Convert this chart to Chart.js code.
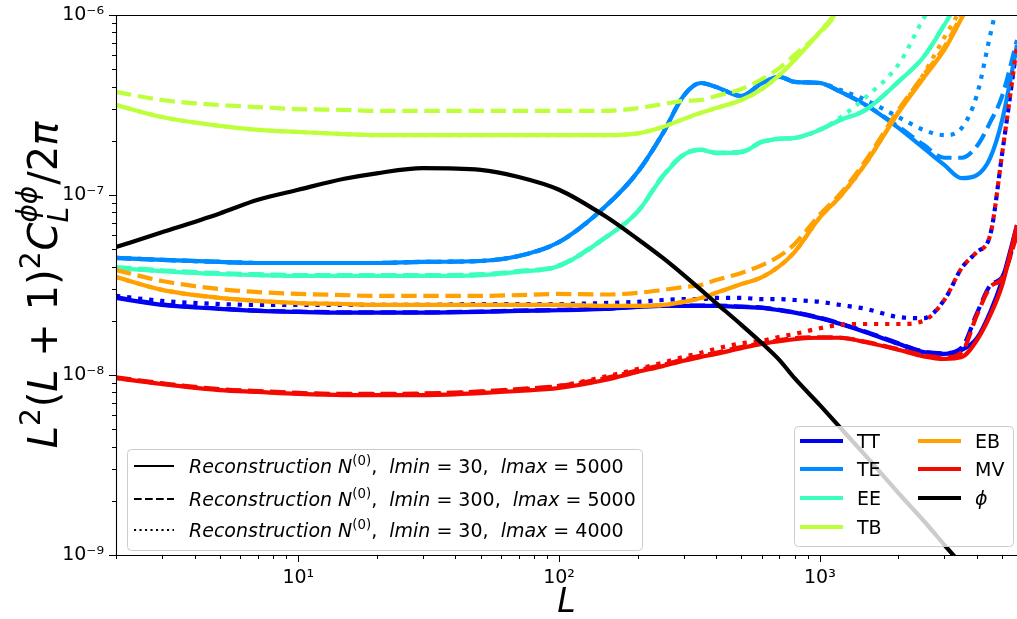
<!DOCTYPE html>
<html>
<head>
<meta charset="utf-8">
<script src="https://cdn.jsdelivr.net/npm/chart.js@4.4.0/dist/chart.umd.min.js"></script>
<style>
  html, body { margin: 0; padding: 0; background: #fff; }
  #wrap { width: 1017px; height: 619px; }
</style>
</head>
<body>
<div id="wrap"><canvas id="chart" width="1017" height="619"></canvas></div>
<script>
// ----------------------------------------
// Lensing reconstruction noise vs L
// ----------------------------------------

// multipoles shared by every curve
const ells = [2, 3, 5, 7, 10, 15, 20, 30, 50, 70, 100, 150, 200, 250, 300, 350, 400, 500,
  600, 700, 800, 1000, 1200, 1500, 2000, 2500, 3000, 3500, 4000, 4500, 5000, 5700];

// lensing potential spectrum
const phi = [5.14e-8, 6.2e-8, 7.9e-8, 9.4e-8, 1.07e-7, 1.23e-7, 1.32e-7, 1.41e-7, 1.38e-7, 1.26e-7,
  1.07e-7, 7.64e-8, 5.7e-8, 4.47e-8, 3.6e-8, 2.97e-8, 2.51e-8, 1.9e-8, 1.5e-8, 1.21e-8,
  9.6e-9, 6.8e-9, 5.08e-9, 3.55e-9, 2.21e-9, 1.55e-9, 1.14e-9, 8.8e-10, 6.8e-10, 5.5e-10, 4.5e-10, 3.5e-10];

// N0 noise, solid = lmin 30 / lmax 5000, dashed = lmin 300 / lmax 5000, dotted = lmin 30 / lmax 4000
const ttSolid = [2.68e-8, 2.45e-8, 2.33e-8, 2.27e-8, 2.24e-8, 2.22e-8, 2.22e-8, 2.22e-8, 2.24e-8, 2.27e-8,
  2.29e-8, 2.33e-8, 2.39e-8, 2.42e-8, 2.42e-8, 2.42e-8, 2.42e-8, 2.39e-8, 2.36e-8, 2.29e-8,
  2.22e-8, 2.07e-8, 1.92e-8, 1.73e-8, 1.49e-8, 1.34e-8, 1.31e-8, 1.38e-8, 1.6e-8, 2.24e-8, 3.37e-8, 6.8e-8];
const ttDashed = [2.7e-8, 2.47e-8, 2.34e-8, 2.28e-8, 2.25e-8, 2.23e-8, 2.23e-8, 2.23e-8, 2.25e-8, 2.28e-8,
  2.3e-8, 2.34e-8, 2.4e-8, 2.43e-8, 2.43e-8, 2.43e-8, 2.43e-8, 2.4e-8, 2.37e-8, 2.3e-8,
  2.23e-8, 2.08e-8, 1.93e-8, 1.74e-8, 1.5e-8, 1.35e-8, 1.32e-8, 1.42e-8, 2.2e-8, 3.15e-8, 3.5e-8, 6.1e-8];
const ttDotted = [2.75e-8, 2.58e-8, 2.48e-8, 2.45e-8, 2.45e-8, 2.45e-8, 2.45e-8, 2.45e-8, 2.48e-8, 2.48e-8,
  2.48e-8, 2.51e-8, 2.55e-8, 2.61e-8, 2.64e-8, 2.64e-8, 2.68e-8, 2.68e-8, 2.64e-8, 2.64e-8,
  2.61e-8, 2.55e-8, 2.45e-8, 2.33e-8, 2.1e-8, 2.07e-8, 2.61e-8, 3.93e-8, 4.82e-8, 6.0e-8, 1.7e-7, 6.8e-7];

const teSolid = [4.47e-8, 4.36e-8, 4.25e-8, 4.19e-8, 4.19e-8, 4.19e-8, 4.19e-8, 4.25e-8, 4.3e-8, 4.58e-8,
  5.48e-8, 8.6e-8, 1.34e-7, 2.2e-7, 3.55e-7, 4.19e-7, 3.98e-7, 3.55e-7, 4.19e-7, 4.53e-7,
  4.25e-7, 4.19e-7, 3.74e-7, 3.16e-7, 2.36e-7, 1.82e-7, 1.47e-7, 1.24e-7, 1.29e-7, 1.61e-7, 2.61e-7, 6.8e-7];
const teDashed = [4.47e-8, 4.36e-8, 4.25e-8, 4.19e-8, 4.19e-8, 4.19e-8, 4.19e-8, 4.25e-8, 4.3e-8, 4.58e-8,
  5.48e-8, 8.6e-8, 1.34e-7, 2.2e-7, 3.55e-7, 4.19e-7, 3.98e-7, 3.55e-7, 4.19e-7, 4.53e-7,
  4.25e-7, 4.19e-7, 3.74e-7, 3.16e-7, 2.4e-7, 1.9e-7, 1.61e-7, 1.61e-7, 1.87e-7, 2.54e-7, 3.55e-7, 7.26e-7];
const teDotted = [4.47e-8, 4.36e-8, 4.25e-8, 4.19e-8, 4.19e-8, 4.19e-8, 4.19e-8, 4.25e-8, 4.3e-8, 4.58e-8,
  5.48e-8, 8.6e-8, 1.34e-7, 2.2e-7, 3.55e-7, 4.19e-7, 3.98e-7, 3.55e-7, 4.19e-7, 4.53e-7,
  4.25e-7, 4.19e-7, 3.83e-7, 3.37e-7, 2.71e-7, 2.3e-7, 2.15e-7, 2.36e-7, 3.59e-7, 7.74e-7, 1.5e-6, 3e-6];

const eeSolid = [3.93e-8, 3.78e-8, 3.64e-8, 3.59e-8, 3.55e-8, 3.55e-8, 3.55e-8, 3.55e-8, 3.59e-8, 3.74e-8,
  4.03e-8, 5.77e-8, 8.05e-8, 1.27e-7, 1.67e-7, 1.78e-7, 1.71e-7, 1.73e-7, 1.97e-7, 2.05e-7,
  2.07e-7, 2.3e-7, 2.61e-7, 2.97e-7, 4.25e-7, 5.84e-7, 8.8e-7, 1.29e-6, 1.8e-6, 2.5e-6, 3e-6, 4e-6];
const eeDashed = [3.97e-8, 3.82e-8, 3.68e-8, 3.63e-8, 3.59e-8, 3.59e-8, 3.59e-8, 3.59e-8, 3.63e-8, 3.78e-8,
  4.07e-8, 5.8e-8, 8.1e-8, 1.28e-7, 1.68e-7, 1.79e-7, 1.72e-7, 1.74e-7, 1.98e-7, 2.06e-7,
  2.08e-7, 2.31e-7, 2.62e-7, 2.98e-7, 4.27e-7, 5.87e-7, 8.85e-7, 1.3e-6, 1.8e-6, 2.5e-6, 3e-6, 4e-6];
const eeDotted = [3.93e-8, 3.78e-8, 3.64e-8, 3.59e-8, 3.55e-8, 3.55e-8, 3.55e-8, 3.55e-8, 3.59e-8, 3.74e-8,
  4.03e-8, 5.77e-8, 8.05e-8, 1.27e-7, 1.67e-7, 1.78e-7, 1.71e-7, 1.73e-7, 1.97e-7, 2.05e-7,
  2.07e-7, 2.3e-7, 2.7e-7, 3.5e-7, 5.3e-7, 9.6e-7, 1.5e-6, 2.2e-6, 3e-6, 4e-6, 5e-6, 6e-6];

const tbSolid = [3.16e-7, 2.71e-7, 2.42e-7, 2.3e-7, 2.24e-7, 2.18e-7, 2.15e-7, 2.15e-7, 2.15e-7, 2.15e-7,
  2.15e-7, 2.15e-7, 2.2e-7, 2.39e-7, 2.64e-7, 2.86e-7, 3.04e-7, 3.37e-7, 3.88e-7, 4.64e-7,
  5.62e-7, 8.05e-7, 1.09e-6, 1.5e-6, 2e-6, 2.5e-6, 3e-6, 3.5e-6, 4e-6, 4.5e-6, 5e-6, 5.5e-6];
const tbDashed = [3.74e-7, 3.37e-7, 3.16e-7, 3.08e-7, 3.0e-7, 2.97e-7, 2.93e-7, 2.93e-7, 2.93e-7, 2.93e-7,
  2.93e-7, 2.93e-7, 3.04e-7, 3.2e-7, 3.33e-7, 3.37e-7, 3.55e-7, 3.88e-7, 4.41e-7, 5.08e-7,
  6.0e-7, 7.94e-7, 1.07e-6, 1.5e-6, 2e-6, 2.5e-6, 3e-6, 3.5e-6, 4e-6, 4.5e-6, 5e-6, 5.5e-6];
const tbDotted = [3.16e-7, 2.71e-7, 2.42e-7, 2.3e-7, 2.24e-7, 2.18e-7, 2.15e-7, 2.15e-7, 2.15e-7, 2.15e-7,
  2.15e-7, 2.15e-7, 2.2e-7, 2.39e-7, 2.64e-7, 2.86e-7, 3.04e-7, 3.37e-7, 3.88e-7, 4.64e-7,
  5.62e-7, 8.05e-7, 1.09e-6, 1.5e-6, 2e-6, 2.5e-6, 3e-6, 3.5e-6, 4e-6, 4.5e-6, 5e-6, 5.5e-6];

const ebSolid = [3.5e-8, 2.97e-8, 2.68e-8, 2.58e-8, 2.51e-8, 2.48e-8, 2.45e-8, 2.45e-8, 2.45e-8, 2.45e-8,
  2.45e-8, 2.42e-8, 2.42e-8, 2.45e-8, 2.55e-8, 2.68e-8, 2.86e-8, 3.2e-8, 3.5e-8, 4.03e-8,
  4.82e-8, 7.5e-8, 9.87e-8, 1.5e-7, 2.86e-7, 4.47e-7, 6.4e-7, 9.62e-7, 1.38e-6, 2e-6, 2.5e-6, 3e-6];
const ebDashed = [3.83e-8, 3.33e-8, 3.0e-8, 2.89e-8, 2.82e-8, 2.78e-8, 2.75e-8, 2.75e-8, 2.75e-8, 2.78e-8,
  2.82e-8, 2.8e-8, 2.86e-8, 2.97e-8, 3.08e-8, 3.16e-8, 3.37e-8, 3.69e-8, 4.08e-8, 4.58e-8,
  5.34e-8, 7.8e-8, 1.02e-7, 1.56e-7, 2.97e-7, 4.64e-7, 6.64e-7, 1.0e-6, 1.4e-6, 2e-6, 2.5e-6, 3e-6];
const ebDotted = [3.5e-8, 2.97e-8, 2.68e-8, 2.58e-8, 2.51e-8, 2.48e-8, 2.45e-8, 2.45e-8, 2.45e-8, 2.45e-8,
  2.45e-8, 2.42e-8, 2.42e-8, 2.45e-8, 2.55e-8, 2.68e-8, 2.86e-8, 3.2e-8, 3.5e-8, 4.03e-8,
  4.82e-8, 7.5e-8, 9.87e-8, 1.5e-7, 2.9e-7, 4.7e-7, 7.5e-7, 1.1e-6, 1.6e-6, 2.2e-6, 2.8e-6, 3.4e-6];

const mvSolid = [9.62e-9, 8.91e-9, 8.25e-9, 8.05e-9, 7.85e-9, 7.74e-9, 7.74e-9, 7.74e-9, 7.94e-9, 8.15e-9,
  8.47e-9, 9.38e-9, 1.04e-8, 1.12e-8, 1.2e-8, 1.26e-8, 1.31e-8, 1.41e-8, 1.49e-8, 1.54e-8,
  1.58e-8, 1.61e-8, 1.61e-8, 1.52e-8, 1.38e-8, 1.27e-8, 1.23e-8, 1.26e-8, 1.56e-8, 2.15e-8, 3.16e-8, 6.8e-8];
const mvDashed = [9.7e-9, 9.0e-9, 8.35e-9, 8.15e-9, 7.95e-9, 7.85e-9, 7.85e-9, 7.9e-9, 8.1e-9, 8.35e-9,
  8.7e-9, 9.6e-9, 1.06e-8, 1.14e-8, 1.22e-8, 1.28e-8, 1.33e-8, 1.43e-8, 1.5e-8, 1.56e-8,
  1.6e-8, 1.62e-8, 1.61e-8, 1.53e-8, 1.39e-8, 1.29e-8, 1.25e-8, 1.34e-8, 2.15e-8, 3.08e-8, 3.45e-8, 6.0e-8];
const mvDotted = [9.65e-9, 8.95e-9, 8.3e-9, 8.1e-9, 7.9e-9, 7.8e-9, 7.8e-9, 7.85e-9, 8.05e-9, 8.3e-9,
  8.7e-9, 9.8e-9, 1.08e-8, 1.17e-8, 1.26e-8, 1.33e-8, 1.4e-8, 1.5e-8, 1.55e-8, 1.63e-8,
  1.69e-8, 1.82e-8, 1.9e-8, 1.92e-8, 1.92e-8, 2.0e-8, 2.61e-8, 3.93e-8, 4.82e-8, 6.0e-8, 1.7e-7, 6.8e-7];

// estimators, colours (jet at 0.1..0.9) and their three curves
const estimators = ["TT", "TE", "EE", "TB", "EB", "MV"];
const estColors = ["#0000f3", "#008aff", "#3affbd", "#bdff3a", "#ffa100", "#f30900"];
const estCurves = [
  [ttSolid, ttDashed, ttDotted],
  [teSolid, teDashed, teDotted],
  [eeSolid, eeDashed, eeDotted],
  [tbSolid, tbDashed, tbDotted],
  [ebSolid, ebDashed, ebDotted],
  [mvSolid, mvDashed, mvDotted]
];

// configurations shown in the linestyle legend
const configStyles = ["solid", "dashed", "dotted"];
const configLmin = [30, 300, 30];
const configLmax = [5000, 5000, 4000];

// axis ticks
const xTickValues = [10, 100, 1000];
const xTickLabels = ["10\u00b9", "10\u00b2", "10\u00b3"];
const yTickValues = [1e-9, 1e-8, 1e-7, 1e-6];
const yTickLabels = ["10\u207b\u2079", "10\u207b\u2078", "10\u207b\u2077", "10\u207b\u2076"];

const FONT = '"DejaVu Sans"';
const LINE_W = 4.2;
const DASHES = { solid: [], dashed: [15.4, 6.7], dotted: [4.2, 6.9] };
const LEG_DASHES = { solid: [], dashed: [7.7, 3.3], dotted: [2.1, 3.4] };

// minor tick positions: 2..9 times each decade
function minorTicks(lo, hi) {
  const out = [];
  for (let d = Math.floor(Math.log10(lo)); d <= Math.ceil(Math.log10(hi)); d++) {
    for (let m = 1; m <= 9; m++) {
      const v = m * Math.pow(10, d);
      if (v >= lo * 0.999999 && v <= hi * 1.000001) out.push(v);
    }
  }
  return out;
}

function toPoints(values) {
  return ells.map((l, i) => ({ x: l, y: values[i] }));
}

// ---------- datasets (index 0 is drawn on top) ----------
const datasets = [{
  label: "\u03d5",
  data: toPoints(phi),
  borderColor: "#000000",
  borderWidth: LINE_W
}];
for (let e = estimators.length - 1; e >= 0; e--) {
  for (let s = configStyles.length - 1; s >= 0; s--) {
    datasets.push({
      label: estimators[e] + " " + configStyles[s],
      data: toPoints(estCurves[e][s]),
      borderColor: estColors[e],
      borderWidth: LINE_W,
      borderDash: DASHES[configStyles[s]]
    });
  }
}

// ---------- rich text helper (mathtext look) ----------
function fontOf(size, italic) {
  return (italic ? "italic " : "") + size + "px " + FONT;
}
function partWidth(ctx, p, size) {
  if (p.stack) {
    ctx.font = fontOf(size * 0.7, true);
    return Math.max(ctx.measureText(p.sup).width, ctx.measureText(p.sub).width);
  }
  ctx.font = fontOf(p.sup ? size * 0.7 : size, p.it);
  return ctx.measureText(p.t).width;
}
function richWidth(ctx, parts, size) {
  return parts.reduce((w, p) => w + partWidth(ctx, p, size) + (p.gap || 0), 0);
}
function drawRich(ctx, parts, x, y, size) {
  ctx.textBaseline = "alphabetic";
  ctx.textAlign = "left";
  for (const p of parts) {
    const w = partWidth(ctx, p, size);
    if (p.stack) {
      ctx.font = fontOf(size * 0.7, true);
      ctx.fillText(p.sup, x, y - size * 0.5);
      ctx.fillText(p.sub, x, y + size * 0.28);
    } else {
      ctx.font = fontOf(p.sup ? size * 0.7 : size, p.it);
      ctx.fillText(p.t, x, p.sup ? y - size * 0.42 : y);
    }
    x += w + (p.gap || 0);
  }
}

function legendBox(ctx, x, y, w, h) {
  ctx.save();
  ctx.beginPath();
  ctx.roundRect(x + 0.5, y + 0.5, w, h, 4);
  ctx.fillStyle = "rgba(255,255,255,0.8)";
  ctx.fill();
  ctx.strokeStyle = "#cccccc";
  ctx.lineWidth = 1;
  ctx.stroke();
  ctx.restore();
}

// ---------- plugin: frame, tick marks, axis titles, legends ----------
const decorations = {
  id: "decorations",
  afterDraw(chart) {
    const ctx = chart.ctx;
    const a = chart.chartArea;
    const xs = chart.scales.x, ys = chart.scales.y;
    ctx.save();

    // frame
    ctx.strokeStyle = "#000";
    ctx.lineWidth = 1.1;
    ctx.beginPath();
    ctx.moveTo(a.left + 0.5, a.bottom + 0.5);
    ctx.lineTo(a.left + 0.5, a.top + 0.5);
    ctx.lineTo(a.right + 0.5, a.top + 0.5);
    ctx.moveTo(a.left + 0.5, a.bottom + 0.5);
    ctx.lineTo(a.right + 0.5, a.bottom + 0.5);
    ctx.stroke();

    // tick marks (outward)
    ctx.lineWidth = 1;
    ctx.beginPath();
    xs.ticks.forEach(t => {
      const px = Math.round(xs.getPixelForValue(t.value)) + 0.5;
      const len = t.major ? 7 : 4;
      ctx.moveTo(px, a.bottom);
      ctx.lineTo(px, a.bottom + len);
    });
    ys.ticks.forEach(t => {
      const py = Math.round(ys.getPixelForValue(t.value)) + 0.5;
      const len = t.major ? 7 : 4;
      ctx.moveTo(a.left, py);
      ctx.lineTo(a.left - len, py);
    });
    ctx.stroke();

    ctx.fillStyle = "#000";

    // x title
    ctx.font = fontOf(33, true);
    ctx.textAlign = "center";
    ctx.textBaseline = "alphabetic";
    ctx.fillText("L", (a.left + a.right) / 2, 612);

    // y title, rotated
    const ySize = 40;
    const yParts = [
      { t: "L", it: true }, { t: "2", sup: true, gap: 1 }, { t: "(" }, { t: "L", it: true },
      { t: " + " }, { t: "1" }, { t: ")" }, { t: "2", sup: true, gap: 1 }, { t: "C", it: true },
      { stack: true, sup: "\u03d5\u03d5", sub: "L", gap: 1 }, { t: "/2" }, { t: "\u03c0", it: true }
    ];
    const yw = richWidth(ctx, yParts, ySize);
    ctx.save();
    ctx.translate(57, (a.top + a.bottom) / 2);
    ctx.rotate(-Math.PI / 2);
    drawRich(ctx, yParts, -yw / 2, 0, ySize);
    ctx.restore();

    // linestyle legend
    const lSize = 19;
    legendBox(ctx, 127, 449, 515, 101);
    const rows1 = [466, 499, 530];
    configStyles.forEach((st, i) => {
      ctx.save();
      ctx.strokeStyle = "#000";
      ctx.lineWidth = 2.1;
      ctx.setLineDash(LEG_DASHES[st]);
      ctx.beginPath();
      ctx.moveTo(134, rows1[i]);
      ctx.lineTo(174, rows1[i]);
      ctx.stroke();
      ctx.restore();
      const parts = [
        { t: "Reconstruction N", it: true }, { t: "(0)", sup: true }, { t: ",  " },
        { t: "lmin", it: true }, { t: " = " + configLmin[i] + ",  " },
        { t: "lmax", it: true }, { t: " = " + configLmax[i] }
      ];
      drawRich(ctx, parts, 189, rows1[i] + 7, lSize);
    });

    // estimator legend
    legendBox(ctx, 794, 426, 219, 120);
    const names = estimators.concat(["\u03d5"]);
    const cols = estColors.concat(["#000000"]);
    const rows2 = [441, 469, 498, 527];
    names.forEach((n, i) => {
      const col = i < 4 ? 0 : 1;
      const row = i < 4 ? i : i - 4;
      const x0 = col === 0 ? 800 : 918;
      const y0 = rows2[row];
      ctx.save();
      ctx.strokeStyle = cols[i];
      ctx.lineWidth = LINE_W;
      ctx.beginPath();
      ctx.moveTo(x0, y0);
      ctx.lineTo(x0 + 43, y0);
      ctx.stroke();
      ctx.restore();
      ctx.font = fontOf(lSize, n === "\u03d5");
      ctx.textAlign = "left";
      ctx.textBaseline = "alphabetic";
      ctx.fillText(n, x0 + 57, y0 + 7);
    });

    ctx.restore();
  }
};

new Chart(document.getElementById("chart"), {
  type: "line",
  data: { datasets },
  options: {
    responsive: false,
    animation: false,
    events: [],
    layout: { padding: { top: 15, right: 0, bottom: 0, left: 0 } },
    elements: {
      point: { radius: 0 },
      line: { cubicInterpolationMode: "monotone", capBezierPoints: false, borderCapStyle: "butt", fill: false }
    },
    plugins: { legend: { display: false }, tooltip: { enabled: false } },
    scales: {
      x: {
        type: "logarithmic",
        min: 2,
        max: 5700,
        grid: { display: false, drawTicks: false },
        border: { display: false },
        afterBuildTicks: s => {
          s.ticks = minorTicks(2, 5700).map(v => ({ value: v, major: xTickValues.includes(v) }));
        },
        afterFit: s => { s.height = 64; s.paddingLeft = 0; s.paddingRight = 0; },
        ticks: {
          autoSkip: false,
          maxRotation: 0,
          padding: 12,
          color: "#000",
          font: { family: FONT, size: 19 },
          callback: v => {
            const i = xTickValues.indexOf(v);
            return i >= 0 ? xTickLabels[i] : "";
          }
        }
      },
      y: {
        type: "logarithmic",
        min: 1e-9,
        max: 1e-6,
        grid: { display: false, drawTicks: false },
        border: { display: false },
        afterBuildTicks: s => {
          s.ticks = minorTicks(1e-9, 1e-6).map(v => ({
            value: v,
            major: yTickValues.some(t => Math.abs(t - v) / t < 1e-6)
          }));
        },
        afterFit: s => { s.width = 116; s.paddingTop = 0; s.paddingBottom = 0; },
        ticks: {
          autoSkip: false,
          padding: 12,
          color: "#000",
          font: { family: FONT, size: 19 },
          callback: v => {
            const i = yTickValues.findIndex(t => Math.abs(t - v) / t < 1e-6);
            return i >= 0 ? yTickLabels[i] : "";
          }
        }
      }
    }
  },
  plugins: [decorations]
});
</script>
</body>
</html>
